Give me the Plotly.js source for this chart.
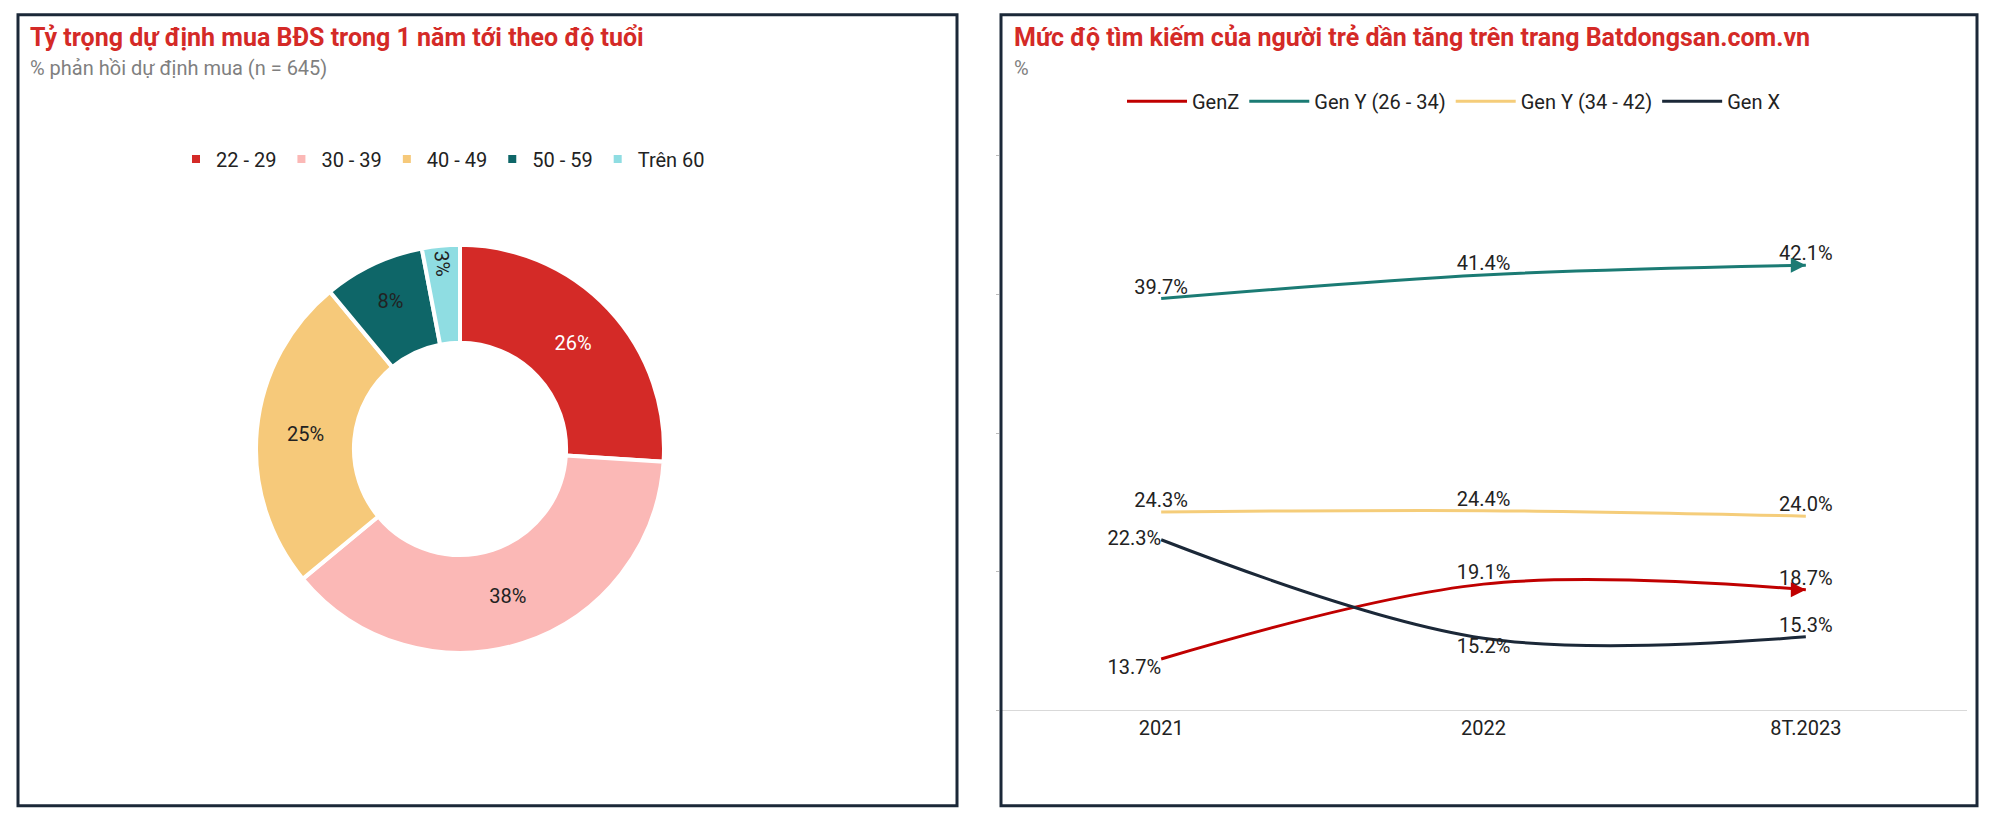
<!DOCTYPE html>
<html><head><meta charset="utf-8">
<script src="https://cdn.plot.ly/plotly-3.0.1.min.js"></script>
<style>body{margin:0;background:#fff}#c{width:2000px;height:824px}</style>
</head><body><div id="c"></div>
<script>
// pie: age groups
const ageGroups = ["22 - 29", "30 - 39", "40 - 49", "50 - 59", "Trên 60"];
const agePct = [26, 38, 25, 8, 3];
const ageColors = ["#d42a27", "#fbb8b6", "#f6c97a", "#0e6668", "#8fdde2"];

// line: search share by generation
const years = ["2021", "2022", "8T.2023"];
const genZ = [13.7, 19.1, 18.7];
const genY1 = [39.7, 41.4, 42.1];
const genY2 = [24.3, 24.4, 24.0];
const genX = [22.3, 15.2, 15.3];

const font = "Roboto, Arial, sans-serif";
const lineTrace = (name, y, color, pos) => ({
  type: "scatter", mode: "lines+text", name, x: years, y,
  line: { color, width: 3, shape: "spline" },
  text: y.map(v => v.toFixed(1) + "%"), textposition: pos,
  textfont: { size: 20, color: "#222" }, cliponaxis: false,
  xaxis: "x", yaxis: "y", legend: "legend"
});

const data = [
  {
    type: "pie", labels: ageGroups, values: agePct, sort: false,
    direction: "clockwise", rotation: 0, hole: 0.52,
    marker: { colors: ageColors, line: { color: "#fff", width: 4 } },
    texttemplate: "%{value}%", textinfo: "text", textposition: "inside",
    insidetextfont: { size: 20, color: ["#fff", "#222", "#222", "#222", "#222"] },
    domain: { x: [0.128, 0.332], y: [0.2075, 0.703] },
    legend: "legend2", hoverinfo: "label+percent"
  },
  lineTrace("GenZ", genZ, "#c00000", ["bottom left", "top center", "top center"]),
  lineTrace("Gen Y (26 - 34)", genY1, "#1b7b74", ["top center", "top center", "top center"]),
  lineTrace("Gen Y (34 - 42)", genY2, "#f5cd7a", ["top center", "top center", "top center"]),
  lineTrace("Gen X", genX, "#1b2838", ["middle left", "bottom center", "top center"])
];

const layout = {
  width: 2000, height: 824, margin: { l: 0, r: 0, t: 0, b: 0 },
  paper_bgcolor: "#fff", plot_bgcolor: "#fff",
  font: { family: font, size: 20, color: "#222" },
  xaxis: {
    domain: [0.5, 0.9835], type: "category", range: [-0.5, 2.5],
    showgrid: false, zeroline: false, showline: true, linecolor: "#d9d9d9",
    ticks: "", tickfont: { size: 20, color: "#222" }
  },
  yaxis: {
    domain: [0.138, 0.811], range: [10, 50], dtick: 10,
    showgrid: false, zeroline: false, showticklabels: false,
    ticks: "outside", ticklen: 3, tickcolor: "#bbb"
  },
  legend: {
    orientation: "h", x: 0.561, y: 0.877, yanchor: "middle",
    font: { size: 20 }, itemwidth: 60, tracegroupgap: 0, bgcolor: "rgba(0,0,0,0)"
  },
  legend2: {
    orientation: "h", x: 0.088, y: 0.807, yanchor: "middle",
    font: { size: 20 }, bgcolor: "rgba(0,0,0,0)"
  },
  showlegend: true,
  shapes: [
    { type: "rect", xref: "paper", yref: "paper", x0: 0.009, x1: 0.4785, y0: 0.022, y1: 0.982, line: { color: "#1b2838", width: 3 } },
    { type: "rect", xref: "paper", yref: "paper", x0: 0.5005, x1: 0.9885, y0: 0.022, y1: 0.982, line: { color: "#1b2838", width: 3 } }
  ],
  annotations: [
    { xref: "paper", yref: "paper", x: 0.014, y: 0.955, xanchor: "left", yanchor: "middle", showarrow: false,
      text: "<b>Tỷ trọng dự định mua BĐS trong 1 năm tới theo độ tuổi</b>", font: { size: 25, color: "#d42a27" } },
    { xref: "paper", yref: "paper", x: 0.014, y: 0.917, xanchor: "left", yanchor: "middle", showarrow: false,
      text: "% phản hồi dự định mua (n = 645)", font: { size: 20, color: "#7f7f7f" } },
    { xref: "paper", yref: "paper", x: 0.506, y: 0.955, xanchor: "left", yanchor: "middle", showarrow: false,
      text: "<b>Mức độ tìm kiếm của người trẻ dần tăng trên trang Batdongsan.com.vn</b>", font: { size: 25, color: "#d42a27" } },
    { xref: "paper", yref: "paper", x: 0.506, y: 0.917, xanchor: "left", yanchor: "middle", showarrow: false,
      text: "%", font: { size: 20, color: "#7f7f7f" } },
    { xref: "x", yref: "y", x: 2, y: genZ[2], ax: -14, ay: 0, text: "", showarrow: true, arrowhead: 2, arrowsize: 1, arrowwidth: 3, arrowcolor: "#c00000" },
    { xref: "x", yref: "y", x: 2, y: genY1[2], ax: -14, ay: 0, text: "", showarrow: true, arrowhead: 2, arrowsize: 1, arrowwidth: 3, arrowcolor: "#1b7b74" }
  ]
};

Plotly.newPlot("c", data, layout, { displayModeBar: false, staticPlot: true });
</script></body></html>
